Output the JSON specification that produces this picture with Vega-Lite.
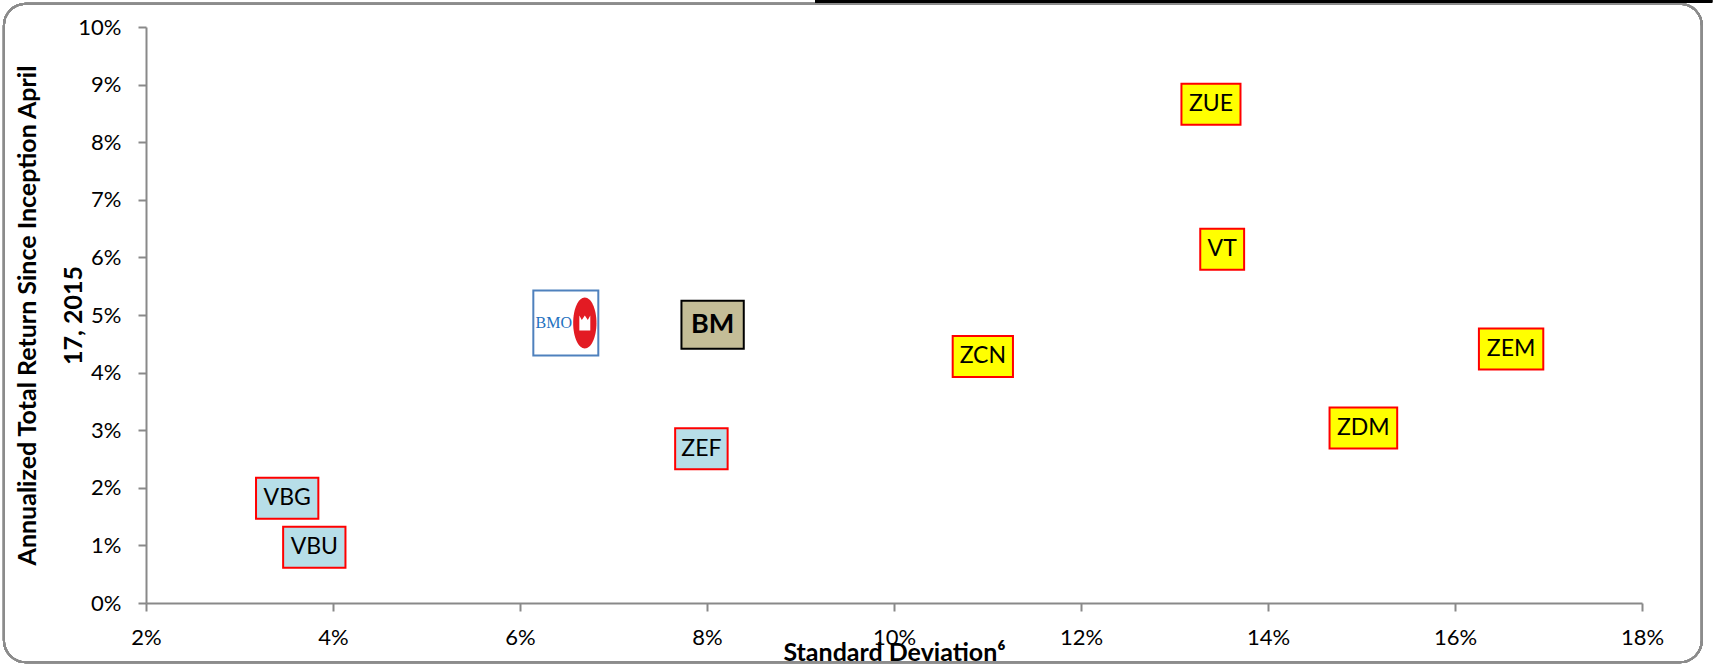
{
  "$schema": "https://vega.github.io/schema/vega-lite/v6.json",
  "width": 1496,
  "height": 576,
  "autosize": {"type": "none"},
  "padding": {"left": 146, "top": 27, "right": 73, "bottom": 61},
  "background": "white",
  "config": {
    "view": {"stroke": null},
    "font": "Lato",
    "axis": {
      "gridColor": "#898989", "gridWidth": 2, "gridOpacity": 1,
      "domainColor": "#898989", "domainWidth": 2,
      "tickColor": "#898989", "tickWidth": 2, "tickSize": 8,
      "labelFont": "Lato", "labelFontSize": 22, "labelColor": "#000000",
      "titleFont": "Lato", "titleFontSize": 25, "titleFontWeight": "bold", "titleColor": "#000000"
    }
  },
  "datasets": {
    "pts": [
      {"label": "ZUE", "sd": 0.1339, "ret": 0.0866, "type": "Equity"},
      {"label": "VT", "sd": 0.1351, "ret": 0.0614, "type": "Equity"},
      {"label": "ZEM", "sd": 0.1660, "ret": 0.0441, "type": "Equity"},
      {"label": "ZDM", "sd": 0.1502, "ret": 0.0304, "type": "Equity"},
      {"label": "ZCN", "sd": 0.1095, "ret": 0.0428, "type": "Equity"},
      {"label": "ZEF", "sd": 0.0794, "ret": 0.0268, "type": "Bond"},
      {"label": "VBG", "sd": 0.0351, "ret": 0.0182, "type": "Bond"},
      {"label": "VBU", "sd": 0.0380, "ret": 0.0097, "type": "Bond"},
      {"label": "BM", "sd": 0.0806, "ret": 0.0483, "type": "Portfolio"},
      {"label": "BMO", "sd": 0.0649, "ret": 0.0486, "type": "Logo"}
    ]
  },
  "data": {"name": "pts"},
  "layer": [
    {
      "mark": {"type": "rect", "fill": null, "stroke": "#8c8c8c", "strokeWidth": 2, "cornerRadius": 22},
      "encoding": {
        "x": {"datum": 0.0048, "type": "quantitative"},
        "x2": {"datum": 0.1864},
        "y": {"datum": 0.10405, "type": "quantitative"},
        "y2": {"datum": -0.0103}
      }
    },
    {
      "mark": {"type": "rule", "stroke": "#000000", "strokeWidth": 3},
      "encoding": {
        "x": {"datum": 0.0916, "type": "quantitative"},
        "x2": {"datum": 0.1875},
        "y": {"datum": 0.1045, "type": "quantitative"}
      }
    },
    {
      "mark": {"type": "point", "filled": true, "size": 1681, "strokeWidth": 2, "opacity": 1},
      "encoding": {
        "x": {
          "field": "sd", "type": "quantitative",
          "scale": {"domain": [0.02, 0.18], "nice": false, "zero": false},
          "axis": {
            "format": ".0%",
            "values": [0.02, 0.04, 0.06, 0.08, 0.10, 0.12, 0.14, 0.16, 0.18],
            "labelPadding": 16, "labelFlush": false,
            "title": "Standard Deviation⁶",
            "titleY": 57, "titleBaseline": "alphabetic"
          }
        },
        "y": {
          "field": "ret", "type": "quantitative",
          "scale": {"domain": [0, 0.10], "nice": false, "zero": false},
          "axis": {
            "format": ".0%",
            "values": [0, 0.01, 0.02, 0.03, 0.04, 0.05, 0.06, 0.07, 0.08, 0.09, 0.10],
            "labelPadding": 17, "labelFlush": false,
            "title": ["Annualized Total Return Since Inception April", "17, 2015"],
            "titleX": -111, "titleBaseline": "alphabetic", "titleLineHeight": 46
          }
        },
        "shape": {
          "field": "label", "type": "nominal", "legend": null,
          "scale": {
            "domain": ["ZUE", "VT", "ZEM", "ZDM", "ZCN", "ZEF", "VBG", "VBU", "BM", "BMO"],
            "range": [
              "M-1.44,-1H1.44V1H-1.44Z",
              "M-1.07,-1H1.07V1H-1.07Z",
              "M-1.57,-1H1.57V1H-1.57Z",
              "M-1.65,-1H1.65V1H-1.65Z",
              "M-1.47,-1H1.47V1H-1.47Z",
              "M-1.28,-1H1.28V1H-1.28Z",
              "M-1.52,-1H1.52V1H-1.52Z",
              "M-1.52,-1H1.52V1H-1.52Z",
              "M-1.52,-1.17H1.52V1.17H-1.52Z",
              "M-1.585,-1.585H1.585V1.585H-1.585Z"
            ]
          }
        },
        "fill": {
          "field": "type", "type": "nominal", "legend": null,
          "scale": {"domain": ["Equity", "Bond", "Portfolio", "Logo"], "range": ["#FFFF00", "#B7DEE8", "#C4BD97", "#FFFFFF"]}
        },
        "stroke": {
          "field": "type", "type": "nominal", "legend": null,
          "scale": {"domain": ["Equity", "Bond", "Portfolio", "Logo"], "range": ["#FF0000", "#FF0000", "#000000", "#4F81BD"]}
        }
      }
    },
    {
      "transform": [{"filter": "datum.type !== 'Logo' && datum.label !== 'BM'"}],
      "mark": {"type": "text", "font": "Lato", "fontSize": 23, "fill": "#000000", "align": "center", "baseline": "middle"},
      "encoding": {
        "x": {"field": "sd", "type": "quantitative"},
        "y": {"field": "ret", "type": "quantitative"},
        "text": {"field": "label"}
      }
    },
    {
      "transform": [{"filter": "datum.label === 'BM'"}],
      "mark": {"type": "text", "font": "Lato", "fontSize": 27, "fontWeight": "bold", "fill": "#000000", "align": "center", "baseline": "middle"},
      "encoding": {
        "x": {"field": "sd", "type": "quantitative"},
        "y": {"field": "ret", "type": "quantitative"},
        "text": {"field": "label"}
      }
    },
    {
      "transform": [{"filter": "datum.type === 'Logo'"}],
      "mark": {"type": "text", "font": "Liberation Serif", "fontSize": 16, "fill": "#1F72C0", "align": "center", "baseline": "middle", "xOffset": -12},
      "encoding": {
        "x": {"field": "sd", "type": "quantitative"},
        "y": {"field": "ret", "type": "quantitative"},
        "text": {"field": "label"}
      }
    },
    {
      "transform": [{"filter": "datum.type === 'Logo'"}],
      "mark": {"type": "point", "filled": true, "shape": "M0,-1A0.457,1,0,1,1,0,1A0.457,1,0,1,1,0,-1Z", "size": 2601, "fill": "#E31B23", "strokeWidth": 0, "opacity": 1, "xOffset": 19},
      "encoding": {
        "x": {"field": "sd", "type": "quantitative"},
        "y": {"field": "ret", "type": "quantitative"}
      }
    },
    {
      "transform": [{"filter": "datum.type === 'Logo'"}],
      "mark": {"type": "point", "filled": true, "shape": "M-0.73,1L-0.73,-1L-0.4,-0.4L0,-1L0.4,-0.4L0.73,-1L0.73,1Z", "size": 225, "fill": "#FFFFFF", "strokeWidth": 0, "opacity": 1, "xOffset": 19},
      "encoding": {
        "x": {"field": "sd", "type": "quantitative"},
        "y": {"field": "ret", "type": "quantitative"}
      }
    }
  ]
}
